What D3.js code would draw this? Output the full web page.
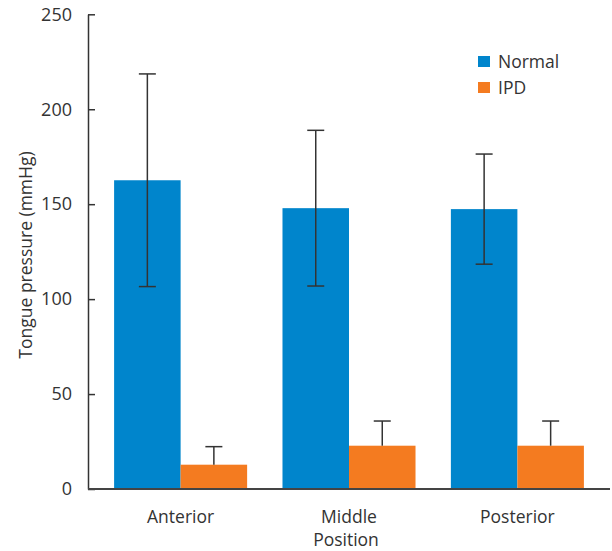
<!DOCTYPE html>
<html>
<head>
<meta charset="utf-8">
<script src="https://cdn.jsdelivr.net/npm/d3@7"></script>
<style>
  body { margin: 0; background: #fff; }
  svg { display: block; font-family: "Open Sans", sans-serif; }
</style>
</head>
<body>
<svg id="canvas" width="612" height="551"></svg>
<script>
let categories = ['Anterior', 'Middle', 'Posterior']
let series = ['Normal', 'IPD']
let normalMeans = [162.6, 147.9, 147.4]
let normalErrors = [56, 41, 29]
let ipdMeans = [12.8, 22.8, 22.8]
let ipdErrors = [9.5, 13, 13]
let yTicks = [0, 50, 100, 150, 200, 250]
let colors = ['#0085cc', '#f47b20']

let canvas = d3.select('#canvas')

let plotLeft = 88, plotRight = 610, plotTop = 14.3, plotBottom = 489
let fontSize = 17.5

let xScale = d3.scaleBand()
    .domain(categories)
    .range([plotLeft, plotRight])
    .paddingInner(0.21)
    .paddingOuter(0.155)

let subScale = d3.scaleBand()
    .domain(series)
    .range([0, xScale.bandwidth()])

let yScale = d3.scaleLinear()
    .domain([0, 250])
    .range([plotBottom, plotTop])

let rows = []
categories.forEach((c, i) => {
    rows.push({ cat: c, s: 'Normal', mean: normalMeans[i], err: normalErrors[i] })
    rows.push({ cat: c, s: 'IPD', mean: ipdMeans[i], err: ipdErrors[i] })
})

// bars
canvas.selectAll('rect.bar')
    .data(rows)
    .enter()
    .append('rect')
    .attr('class', 'bar')
    .attr('x', (d) => xScale(d.cat) + subScale(d.s))
    .attr('y', (d) => yScale(d.mean))
    .attr('width', subScale.bandwidth())
    .attr('height', (d) => yScale(0) - yScale(d.mean))
    .attr('fill', (d) => colors[series.indexOf(d.s)])

// error bars (IPD only upward, as drawn)
let errG = canvas.append('g')
    .attr('stroke', '#333')
    .attr('stroke-width', 1.5)
rows.forEach((d) => {
    let cx = xScale(d.cat) + subScale(d.s) + subScale.bandwidth() / 2
    let lo = d.s === 'Normal' ? d.mean - d.err : d.mean
    let hi = d.mean + d.err
    errG.append('line')
        .attr('x1', cx).attr('x2', cx)
        .attr('y1', yScale(lo)).attr('y2', yScale(hi))
    errG.append('line')
        .attr('x1', cx - 8.5).attr('x2', cx + 8.5)
        .attr('y1', yScale(hi)).attr('y2', yScale(hi))
    if (d.s === 'Normal') {
        errG.append('line')
            .attr('x1', cx - 8.5).attr('x2', cx + 8.5)
            .attr('y1', yScale(lo)).attr('y2', yScale(lo))
    }
})

// y axis
let yAxis = d3.axisLeft(yScale)
    .tickValues(yTicks)
    .tickSizeInner(-7)
    .tickSizeOuter(0)
    .tickPadding(16)
let yG = canvas.append('g')
    .attr('transform', 'translate(' + plotLeft + ',0)')
    .call(yAxis)
yG.select('.domain').attr('stroke', '#333').attr('stroke-width', 1.5)
yG.selectAll('.tick line').attr('stroke', '#333').attr('stroke-width', 1.5)
yG.selectAll('.tick text')
    .attr('font-size', 18)
    .attr('fill', '#333')
    .attr('font-family', '"Open Sans", sans-serif')

// x axis line
canvas.append('line')
    .attr('x1', plotLeft).attr('x2', plotRight)
    .attr('y1', yScale(0)).attr('y2', yScale(0))
    .attr('stroke', '#444')
    .attr('stroke-width', 2)

// x labels
categories.forEach((c) => {
    canvas.append('text')
        .attr('x', xScale(c) + xScale.bandwidth() / 2)
        .attr('y', 523)
        .attr('text-anchor', 'middle')
        .attr('font-size', fontSize)
        .attr('fill', '#333')
        .text(c)
})
canvas.append('text')
    .attr('x', xScale('Middle') + xScale.bandwidth() / 2 - 3)
    .attr('y', 546)
    .attr('text-anchor', 'middle')
    .attr('font-size', fontSize)
    .attr('fill', '#333')
    .text('Position')

// y label
canvas.append('text')
    .attr('transform', 'translate(32,255) rotate(-90)')
    .attr('text-anchor', 'middle')
    .attr('font-size', 17.5)
    .attr('fill', '#333')
    .text('Tongue pressure (mmHg)')

// legend
series.forEach((s, i) => {
    canvas.append('rect')
        .attr('x', 478)
        .attr('y', 56 + i * 26)
        .attr('width', 12)
        .attr('height', 11)
        .attr('fill', colors[i])
    canvas.append('text')
        .attr('x', 498)
        .attr('y', 68 + i * 26)
        .attr('font-size', fontSize)
        .attr('fill', '#333')
        .text(s)
})
</script>
</body>
</html>
